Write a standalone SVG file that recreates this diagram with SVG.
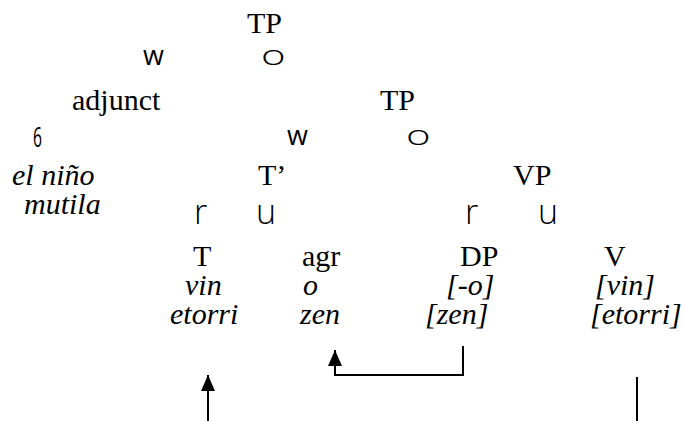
<svg xmlns="http://www.w3.org/2000/svg" width="685" height="421" viewBox="0 0 685 421">
<style>
.t{font-family:"Liberation Serif","Times New Roman",serif;font-size:30px;fill:#000}
.i{font-style:italic}
.b{font-family:"Open Sans","DejaVu Sans",sans-serif;font-size:27px;fill:#000}
.o{font-family:"Open Sans","DejaVu Sans",sans-serif;font-weight:300;font-size:30px;fill:#000}
.b2{font-family:"Open Sans","DejaVu Sans",sans-serif;font-weight:300;font-size:34px;fill:#000}
.ln{fill:none;stroke:#000;stroke-width:2}
</style>
<defs>
<marker id="ah" viewBox="0 0 16 14" refX="16" refY="7" markerWidth="16" markerHeight="14" markerUnits="userSpaceOnUse" orient="auto">
<path d="M0,0 L16,7 L0,14 Z" fill="#000"/>
</marker>
</defs>
<g id="tp1"><text class="t" x="247" y="33">TP</text></g>
<g id="br1"><text class="b" x="143" y="65">w</text><text class="o" transform="translate(261,65) scale(1.4,0.92)">o</text></g>
<g id="adjunct"><text class="t" x="72" y="110">adjunct</text></g>
<g id="tp2"><text class="t" x="380" y="110">TP</text></g>
<g id="br2"><text class="b" x="33" y="147" font-size="24" textLength="9" lengthAdjust="spacingAndGlyphs">6</text><text class="b" x="287" y="145">w</text><text class="o" transform="translate(406,145) scale(1.4,0.92)">o</text></g>
<g id="elnino"><text class="t i" x="12" y="185">el niño</text><text class="t i" x="24" y="214">mutila</text></g>
<g id="tbar"><text class="t" x="258" y="185">T’</text></g>
<g id="vp"><text class="t" x="513" y="185">VP</text></g>
<g id="br3"><text class="b2" x="194" y="224">r</text><text class="b2" x="256" y="224">u</text><text class="b2" x="465" y="224">r</text><text class="b2" x="538" y="224">u</text></g>
<g id="t"><text class="t" x="193" y="266">T</text><text class="t i" x="185" y="295">vin</text><text class="t i" x="170" y="324">etorri</text></g>
<g id="agr"><text class="t" x="302" y="266">agr</text><text class="t i" x="303" y="295">o</text><text class="t i" x="300" y="324">zen</text></g>
<g id="dp"><text class="t" x="460" y="266">DP</text><text class="t i" x="446" y="295">[-o]</text><text class="t i" x="425" y="324">[zen]</text></g>
<g id="v"><text class="t" x="604" y="266">V</text><text class="t i" x="595" y="295">[vin]</text><text class="t i" x="590" y="324">[etorri]</text></g>
<g id="connectors">
<path class="ln" d="M208,421 V375" marker-end="url(#ah)"/>
<path class="ln" d="M463,346 V375 H335 V350" marker-end="url(#ah)"/>
<path class="ln" d="M637,377 V421"/>
</g>
</svg>
